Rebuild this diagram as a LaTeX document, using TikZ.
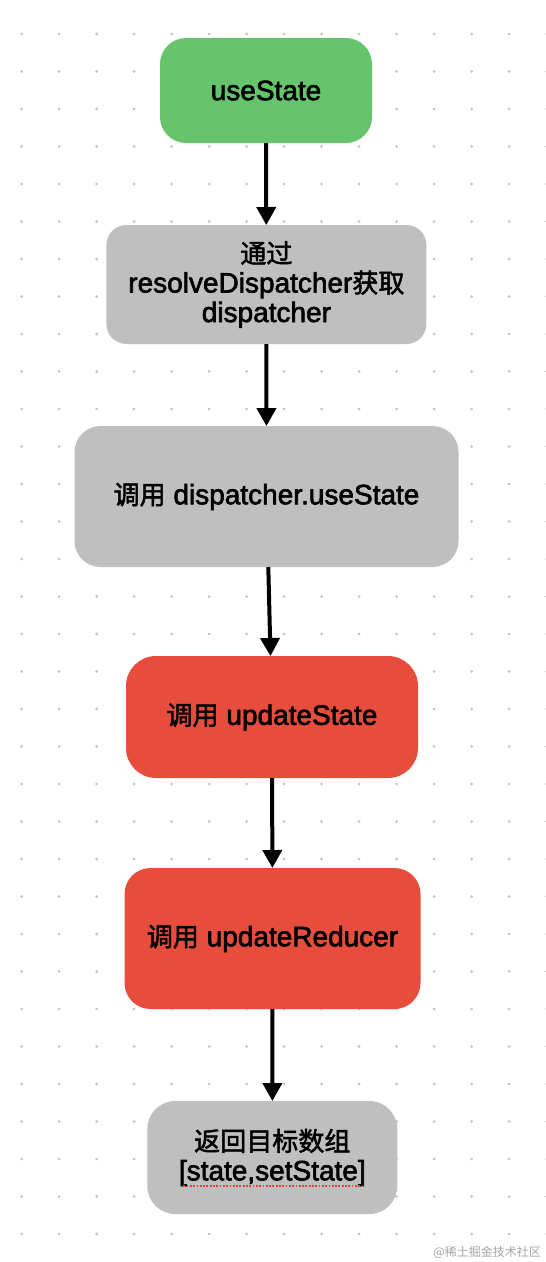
\documentclass[tikz,border=0pt]{standalone}
\usepackage{fontspec}
\setmainfont{Liberation Sans}[FakeBold=2.2]
\newfontfamily\cjk{Noto Sans CJK SC}[Scale=0.93,FakeBold=2]
\newfontfamily\wmfont{Noto Sans CJK SC}
\usetikzlibrary{arrows.meta,calc}
\definecolor{boxgreen}{RGB}{102,196,108}
\definecolor{boxgray}{RGB}{191,191,191}
\definecolor{boxred}{RGB}{231,77,61}
\definecolor{dotgray}{RGB}{196,196,196}
\definecolor{squig}{RGB}{232,64,60}
\definecolor{wmgray}{RGB}{165,165,165}
\begin{document}
\begin{tikzpicture}[x=1pt,y=-1pt,
  flowbox/.style={shape=rectangle, align=center, inner sep=0pt, outer sep=0pt,
    text=black, font=\fontsize{28}{29.5}\selectfont},
  arr/.style={line width=4pt, -{Triangle[length=18pt,width=19pt]}},
  squigline/.style={draw=squig, line width=1.8pt, dash pattern=on 1.8pt off 1.5pt}]
\fill[white] (0,0) rectangle (546,1262);
\useasboundingbox (0,0) rectangle (546,1262);
\foreach \i in {0,...,14}
  \foreach \j in {0,...,32}
    \fill[dotgray] (21.6+37.5*\i,34+37.5*\j) circle (1.5pt);

\node[flowbox, fill=boxgreen, rounded corners=26pt, minimum width=212pt, minimum height=105pt]
  (n1) at (266,90.5) {useState};
\node[flowbox, fill=boxgray, rounded corners=20pt, minimum width=320pt, minimum height=119pt]
  (n2) at (266.4,284.5) {{\cjk 通过}\\resolveDispatcher{\cjk 获取}\\dispatcher};
\node[flowbox, fill=boxgray, rounded corners=26pt, minimum width=384pt, minimum height=141pt]
  (n3) at (266.5,496.5) {{\cjk 调用} dispatcher.useState};
\node[flowbox, fill=boxred, rounded corners=30pt, minimum width=292pt, minimum height=122pt]
  (n4) at (272,717) {{\cjk 调用} updateState};
\node[flowbox, fill=boxred, rounded corners=26pt, minimum width=296pt, minimum height=141pt]
  (n5) at (272.5,938.5) {{\cjk 调用} updateReducer};
\node[flowbox, fill=boxgray, rounded corners=28pt, minimum width=250pt, minimum height=113pt]
  (n6) at (272.3,1157.5) {{\cjk 返回目标数组}\\{[}state,setState{]}};
\coordinate (sqA) at ($(n6.center)+(-89,28.8)$);
\coordinate (sqB) at ($(n6.center)+(90.5,28.8)$);
\draw[squigline] (sqA) -- (sqB);

\draw[arr] (n1) -- (n2);
\draw[arr] (n2) -- (n3);
\draw[arr] ([xshift=1.8pt]n3.south) -- ([xshift=-1.5pt]n4.north);
\draw[arr] (n4) -- (n5);
\draw[arr] (n5) -- (n6);

\node[anchor=east, inner sep=0pt, text=wmgray, font=\wmfont\fontsize{12}{12}\selectfont]
  (wm) at (541,1252) {@稀土掘金技术社区};
\end{tikzpicture}
\end{document}
